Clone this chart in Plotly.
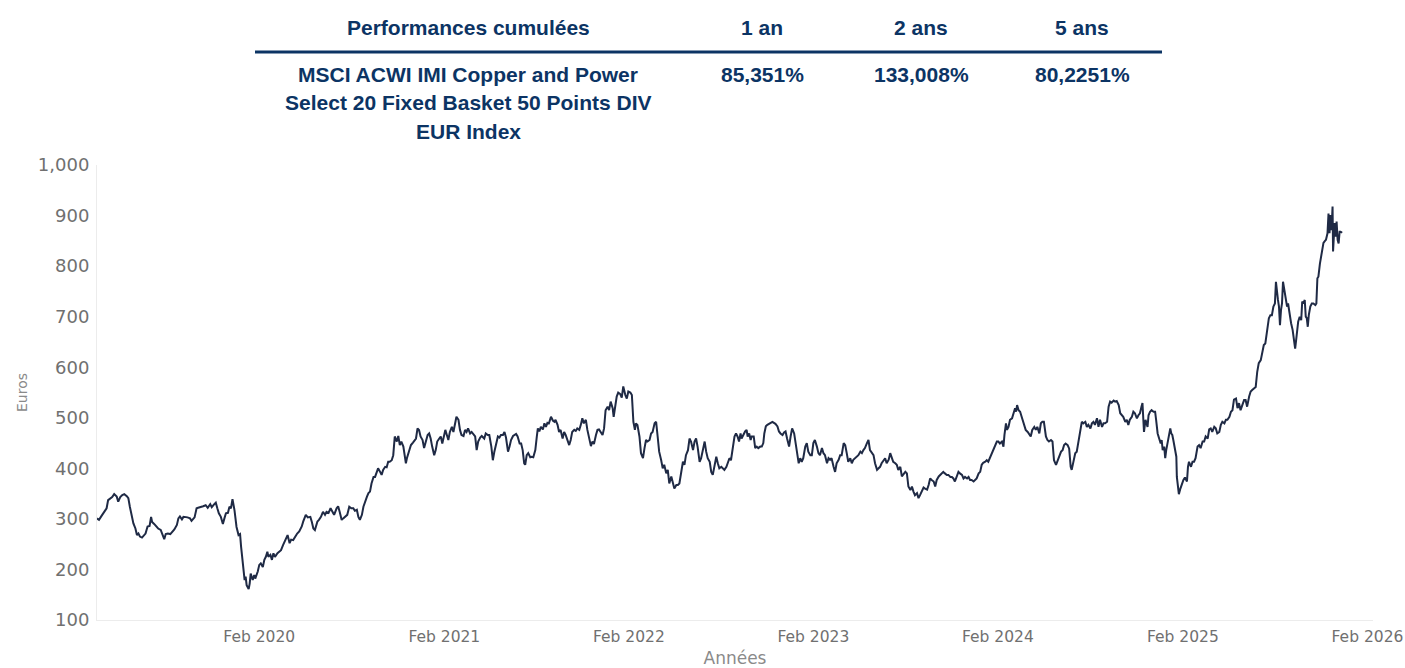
import plotly.graph_objects as go

# ---------------- Table (performance summary) ----------------
table_header = ["Performances cumulées", "1 an", "2 ans", "5 ans"]
index_name_lines = ["MSCI ACWI IMI Copper and Power",
                    "Select 20 Fixed Basket 50 Points DIV",
                    "EUR Index"]
perf_values = ["85,351%", "133,008%", "80,2251%"]

# ---------------- Series (Euros) ----------------
d2019 = ["2019-03-17", "2019-03-21", "2019-03-26",
         "2019-04-01", "2019-04-05", "2019-04-08", "2019-04-12", "2019-04-16", "2019-04-20", "2019-04-25", "2019-04-28",
         "2019-05-02", "2019-05-06", "2019-05-10", "2019-05-15", "2019-05-18", "2019-05-21", "2019-05-25", "2019-05-28",
         "2019-06-01", "2019-06-04", "2019-06-07", "2019-06-10", "2019-06-14", "2019-06-18", "2019-06-21", "2019-06-25", "2019-06-29",
         "2019-07-02", "2019-07-04", "2019-07-08", "2019-07-12", "2019-07-16", "2019-07-21", "2019-07-25", "2019-07-28", "2019-07-31",
         "2019-08-04", "2019-08-09", "2019-08-13", "2019-08-17", "2019-08-22", "2019-08-25", "2019-08-28",
         "2019-09-01", "2019-09-04", "2019-09-07", "2019-09-12", "2019-09-17", "2019-09-20", "2019-09-26", "2019-09-30",
         "2019-10-03", "2019-10-09", "2019-10-13", "2019-10-18", "2019-10-22", "2019-10-27", "2019-10-30",
         "2019-11-04", "2019-11-07", "2019-11-10", "2019-11-13", "2019-11-17", "2019-11-21", "2019-11-24", "2019-11-27",
         "2019-12-01", "2019-12-04", "2019-12-07", "2019-12-10", "2019-12-14", "2019-12-18", "2019-12-22", "2019-12-25", "2019-12-27", "2019-12-30"]
v2019 = [301, 298, 306,
         314, 321, 337, 340, 343, 349, 344, 334,
         343, 347, 349, 345, 341, 324, 304, 291,
         281, 268, 271, 265, 263, 268, 271, 285, 286,
         304, 294, 290, 285, 281, 278, 265, 260, 270,
         271, 270, 275, 279, 288, 301, 305,
         299, 304, 304, 303, 301, 296, 303, 321,
         322, 323, 325, 327, 322, 329, 323,
         329, 332, 321, 311, 304, 290, 301, 311,
         312, 324, 321, 339, 317, 284, 268, 270, 245, 219]

d2020 = ["2020-01-01", "2020-01-03", "2020-01-05", "2020-01-07", "2020-01-11", "2020-01-13", "2020-01-15", "2020-01-19", "2020-01-22", "2020-01-24", "2020-01-29",
         "2020-02-01", "2020-02-04", "2020-02-08", "2020-02-11", "2020-02-14", "2020-02-17", "2020-02-19", "2020-02-23", "2020-02-26", "2020-02-29",
         "2020-03-03", "2020-03-08", "2020-03-11", "2020-03-15", "2020-03-19", "2020-03-24", "2020-03-28",
         "2020-04-01", "2020-04-04", "2020-04-08", "2020-04-12", "2020-04-16", "2020-04-20", "2020-04-25", "2020-04-28",
         "2020-05-03", "2020-05-07", "2020-05-12", "2020-05-15", "2020-05-18", "2020-05-21", "2020-05-26", "2020-05-29",
         "2020-06-02", "2020-06-06", "2020-06-10", "2020-06-13", "2020-06-17", "2020-06-21", "2020-06-25", "2020-06-28",
         "2020-07-03", "2020-07-06", "2020-07-09", "2020-07-13", "2020-07-16", "2020-07-19", "2020-07-24", "2020-07-28",
         "2020-08-01", "2020-08-05", "2020-08-08", "2020-08-12", "2020-08-15", "2020-08-18", "2020-08-22", "2020-08-25", "2020-08-28",
         "2020-09-01", "2020-09-04", "2020-09-07", "2020-09-10", "2020-09-14", "2020-09-17", "2020-09-20", "2020-09-23", "2020-09-27", "2020-09-30",
         "2020-10-03", "2020-10-07", "2020-10-10", "2020-10-13", "2020-10-16", "2020-10-20", "2020-10-23", "2020-10-26", "2020-10-30",
         "2020-11-02", "2020-11-05", "2020-11-08", "2020-11-12", "2020-11-15", "2020-11-17", "2020-11-19", "2020-11-23", "2020-11-27",
         "2020-12-01", "2020-12-04", "2020-12-07", "2020-12-10", "2020-12-13", "2020-12-16", "2020-12-20", "2020-12-23", "2020-12-26", "2020-12-30"]
v2020 = [205, 179, 186, 169, 161, 172, 192, 179, 189, 182, 196,
         209, 212, 205, 219, 225, 235, 225, 229, 219, 232,
         225, 232, 235, 238, 248, 258, 268,
         252, 259, 258, 265, 271, 275, 285, 295,
         308, 303, 304, 294, 281, 278, 295, 298,
         304, 314, 308, 314, 312, 321, 314, 308,
         321, 325, 314, 298, 301, 304, 308, 324,
         321, 321, 316, 318, 304, 298, 308, 324, 334,
         344, 351, 354, 370, 383, 383, 393, 400, 393, 387,
         397, 403, 402, 413, 413, 416, 426, 463, 453,
         464, 446, 453, 443, 416, 410, 420, 436, 446,
         451, 455, 459, 479, 476, 463, 456, 440, 453, 466]

d2021 = ["2021-01-02", "2021-01-05", "2021-01-08", "2021-01-12", "2021-01-15", "2021-01-18", "2021-01-22", "2021-01-25", "2021-01-28",
         "2021-02-01", "2021-02-03", "2021-02-06", "2021-02-09", "2021-02-12", "2021-02-16", "2021-02-19", "2021-02-22", "2021-02-25",
         "2021-03-01", "2021-03-04", "2021-03-07", "2021-03-11", "2021-03-14", "2021-03-17", "2021-03-20", "2021-03-24", "2021-03-27", "2021-03-30",
         "2021-04-03", "2021-04-06", "2021-04-09", "2021-04-13", "2021-04-16", "2021-04-21", "2021-04-24", "2021-04-28",
         "2021-05-01", "2021-05-05", "2021-05-08", "2021-05-11", "2021-05-15", "2021-05-18", "2021-05-21", "2021-05-24", "2021-05-28", "2021-05-31",
         "2021-06-03", "2021-06-07", "2021-06-10", "2021-06-13", "2021-06-17", "2021-06-20", "2021-06-23", "2021-06-26", "2021-06-30",
         "2021-07-03", "2021-07-06", "2021-07-09", "2021-07-11", "2021-07-14", "2021-07-17", "2021-07-21", "2021-07-24", "2021-07-27", "2021-07-31",
         "2021-08-03", "2021-08-05", "2021-08-08", "2021-08-11", "2021-08-15", "2021-08-18", "2021-08-21", "2021-08-24", "2021-08-27", "2021-08-31",
         "2021-09-04", "2021-09-07", "2021-09-09", "2021-09-13", "2021-09-16", "2021-09-19", "2021-09-23", "2021-09-26", "2021-09-29",
         "2021-10-03", "2021-10-06", "2021-10-09", "2021-10-12", "2021-10-16", "2021-10-19", "2021-10-22", "2021-10-26", "2021-10-29",
         "2021-11-01", "2021-11-04", "2021-11-08", "2021-11-11", "2021-11-14", "2021-11-18", "2021-11-21", "2021-11-24", "2021-11-28",
         "2021-12-01", "2021-12-04", "2021-12-07", "2021-12-11", "2021-12-14", "2021-12-17", "2021-12-21", "2021-12-24", "2021-12-27", "2021-12-31"]
v2021 = [469, 459, 443, 426, 436, 453, 459, 463, 449,
         469, 476, 466, 456, 472, 482, 472, 492, 502,
         496, 476, 466, 464, 476, 472, 479, 469, 472, 469,
         463, 436, 453, 461, 464, 459, 469, 466,
         466, 443, 416, 433, 453, 463, 461, 466, 466, 472,
         461, 433, 443, 456, 464, 466, 468, 463, 449,
         449, 436, 410, 407, 426, 430, 422, 423, 422, 436,
         463, 479, 473, 482, 477, 489, 482, 490, 489, 502,
         494, 492, 496, 486, 472, 476, 459, 472, 466,
         456, 446, 456, 472, 476, 474, 479, 476, 486,
         499, 489, 496, 476, 459, 444, 453, 448, 466,
         476, 477, 472, 466, 479, 515, 522, 515, 532, 519]

d2022 = ["2022-01-02", "2022-01-05", "2022-01-08", "2022-01-11", "2022-01-15", "2022-01-18", "2022-01-21", "2022-01-25", "2022-01-28", "2022-01-31",
         "2022-02-04", "2022-02-07", "2022-02-10", "2022-02-13", "2022-02-15", "2022-02-18", "2022-02-22", "2022-02-25",
         "2022-03-01", "2022-03-04", "2022-03-07", "2022-03-10", "2022-03-14", "2022-03-17", "2022-03-20", "2022-03-24", "2022-03-27", "2022-03-30",
         "2022-04-02", "2022-04-06", "2022-04-09", "2022-04-12", "2022-04-16", "2022-04-19", "2022-04-22", "2022-04-26", "2022-04-29",
         "2022-05-02", "2022-05-06", "2022-05-09", "2022-05-12", "2022-05-15", "2022-05-19", "2022-05-22", "2022-05-25", "2022-05-29",
         "2022-06-01", "2022-06-04", "2022-06-08", "2022-06-11", "2022-06-14", "2022-06-17", "2022-06-21", "2022-06-24", "2022-06-27",
         "2022-07-01", "2022-07-04", "2022-07-07", "2022-07-11", "2022-07-14", "2022-07-17", "2022-07-20", "2022-07-24", "2022-07-27", "2022-07-30",
         "2022-08-03", "2022-08-06", "2022-08-09", "2022-08-13", "2022-08-16", "2022-08-19", "2022-08-22", "2022-08-26", "2022-08-29",
         "2022-09-01", "2022-09-04", "2022-09-07", "2022-09-10", "2022-09-12", "2022-09-16", "2022-09-19", "2022-09-22", "2022-09-24", "2022-09-27", "2022-09-30",
         "2022-10-02", "2022-10-06", "2022-10-09", "2022-10-12", "2022-10-15", "2022-10-19", "2022-10-22", "2022-10-25", "2022-10-27", "2022-10-30",
         "2022-11-02", "2022-11-05", "2022-11-09", "2022-11-12", "2022-11-15", "2022-11-18", "2022-11-22", "2022-11-25", "2022-11-28",
         "2022-12-02", "2022-12-05", "2022-12-08", "2022-12-11", "2022-12-15", "2022-12-18", "2022-12-21", "2022-12-25", "2022-12-28"]
v2022 = [502, 519, 542, 550, 547, 540, 562, 545, 538, 552,
         550, 545, 492, 476, 489, 486, 463, 430,
         420, 440, 456, 453, 456, 469, 472, 489, 492, 463,
         433, 416, 400, 407, 390, 397, 370, 384, 374,
         360, 367, 367, 370, 390, 413, 407, 426, 436,
         459, 453, 436, 453, 459, 443, 413, 420, 436,
         453, 433, 420, 413, 393, 387, 403, 423, 410, 400,
         403, 400, 397, 403, 413, 420, 416, 443, 463,
         469, 463, 453, 469, 459, 469, 473, 476, 463, 469, 456,
         463, 463, 440, 443, 440, 443, 443, 450, 469, 483,
         486, 488, 490, 492, 490, 488, 483, 473, 469,
         466, 471, 473, 459, 443, 463, 479, 469, 450]

d2023 = ["2023-01-01", "2023-01-03", "2023-01-06", "2023-01-09", "2023-01-12", "2023-01-16", "2023-01-19", "2023-01-22", "2023-01-26", "2023-01-29",
         "2023-02-01", "2023-02-04", "2023-02-08", "2023-02-11", "2023-02-14", "2023-02-18", "2023-02-21", "2023-02-24", "2023-02-28",
         "2023-03-03", "2023-03-06", "2023-03-09", "2023-03-13", "2023-03-16", "2023-03-19", "2023-03-23", "2023-03-26", "2023-03-29",
         "2023-04-02", "2023-04-05", "2023-04-08", "2023-04-11", "2023-04-15", "2023-04-18", "2023-04-21", "2023-04-25", "2023-04-28",
         "2023-05-01", "2023-05-05", "2023-05-08", "2023-05-11", "2023-05-14", "2023-05-18", "2023-05-21", "2023-05-24", "2023-05-28", "2023-05-31",
         "2023-06-03", "2023-06-07", "2023-06-10", "2023-06-13", "2023-06-16", "2023-06-20", "2023-06-23", "2023-06-26", "2023-06-30",
         "2023-07-03", "2023-07-06", "2023-07-09", "2023-07-13", "2023-07-16", "2023-07-19", "2023-07-23", "2023-07-26", "2023-07-29",
         "2023-08-02", "2023-08-05", "2023-08-08", "2023-08-12", "2023-08-15", "2023-08-18", "2023-08-21", "2023-08-25", "2023-08-28", "2023-08-31",
         "2023-09-04", "2023-09-07", "2023-09-10", "2023-09-14", "2023-09-17", "2023-09-20", "2023-09-23", "2023-09-27", "2023-09-30",
         "2023-10-03", "2023-10-07", "2023-10-10", "2023-10-13", "2023-10-16", "2023-10-18", "2023-10-20", "2023-10-23", "2023-10-26", "2023-10-30",
         "2023-11-02", "2023-11-05", "2023-11-08", "2023-11-12", "2023-11-15", "2023-11-18", "2023-11-22", "2023-11-25", "2023-11-28",
         "2023-12-02", "2023-12-05", "2023-12-08", "2023-12-11", "2023-12-15", "2023-12-18", "2023-12-21", "2023-12-25", "2023-12-28", "2023-12-31"]
v2023 = [430, 410, 420, 413, 420, 443, 450, 433, 426, 426,
         450, 456, 443, 430, 426, 440, 430, 426, 410,
         420, 417, 420, 403, 393, 410, 417, 426, 426,
         450, 446, 430, 413, 420, 410, 417, 420, 423,
         426, 433, 430, 436, 440, 450, 456, 436, 430, 426,
         410, 397, 400, 403, 410, 417, 420, 410, 417,
         430, 420, 413, 410, 407, 397, 403, 384, 387,
         393, 390, 364, 357, 364, 354, 347, 351, 341, 347,
         357, 362, 360, 358, 367, 380, 377, 374, 364,
         377, 384, 387, 390, 393, 391, 389, 387, 387, 383,
         383, 380, 374, 387, 393, 390, 387, 380, 383,
         380, 383, 377, 377, 374, 377, 380, 390, 393, 407]

d2024 = ["2024-01-03", "2024-01-07", "2024-01-10", "2024-01-13", "2024-01-17", "2024-01-20", "2024-01-23", "2024-01-27", "2024-01-30",
         "2024-02-02", "2024-02-05", "2024-02-09", "2024-02-12", "2024-02-14", "2024-02-17", "2024-02-19", "2024-02-22", "2024-02-25", "2024-02-29",
         "2024-03-03", "2024-03-06", "2024-03-08", "2024-03-10", "2024-03-13", "2024-03-16", "2024-03-19", "2024-03-23", "2024-03-25", "2024-03-27", "2024-03-31",
         "2024-04-03", "2024-04-06", "2024-04-09", "2024-04-13", "2024-04-16", "2024-04-19", "2024-04-23", "2024-04-26", "2024-04-29",
         "2024-05-02", "2024-05-06", "2024-05-09", "2024-05-12", "2024-05-16", "2024-05-19", "2024-05-22", "2024-05-26", "2024-05-29",
         "2024-06-01", "2024-06-05", "2024-06-08", "2024-06-11", "2024-06-14", "2024-06-18", "2024-06-21", "2024-06-24", "2024-06-26", "2024-06-30",
         "2024-07-03", "2024-07-06", "2024-07-09", "2024-07-13", "2024-07-16", "2024-07-19", "2024-07-23", "2024-07-26", "2024-07-29",
         "2024-08-02", "2024-08-05", "2024-08-08", "2024-08-11", "2024-08-15", "2024-08-18", "2024-08-21", "2024-08-25", "2024-08-28", "2024-08-31",
         "2024-09-04", "2024-09-07", "2024-09-10", "2024-09-13", "2024-09-17", "2024-09-20", "2024-09-23", "2024-09-27", "2024-09-30",
         "2024-10-03", "2024-10-06", "2024-10-10", "2024-10-13", "2024-10-16", "2024-10-19", "2024-10-23", "2024-10-26", "2024-10-29",
         "2024-11-02", "2024-11-05", "2024-11-08", "2024-11-11", "2024-11-13", "2024-11-16", "2024-11-19", "2024-11-23", "2024-11-25", "2024-11-28",
         "2024-12-01", "2024-12-05", "2024-12-08", "2024-12-10", "2024-12-13", "2024-12-16", "2024-12-19", "2024-12-21", "2024-12-23", "2024-12-26", "2024-12-28", "2024-12-30"]
v2024 = [411, 413, 416, 413, 423, 430, 439, 449, 453,
         453, 449, 453, 443, 466, 489, 476, 482, 496, 499,
         509, 519, 512, 525, 515, 512, 502, 489, 479, 476, 472,
         466, 463, 476, 482, 476, 482, 469, 489, 492,
         492, 463, 456, 453, 456, 453, 416, 407, 416,
         423, 433, 436, 446, 449, 446, 439, 403, 397, 416,
         430, 433, 449, 469, 492, 489, 492, 482, 486,
         479, 489, 492, 486, 499, 482, 496, 482, 489, 489,
         492, 522, 532, 530, 534, 532, 533, 525, 509,
         505, 502, 492, 496, 486, 496, 502, 512, 509,
         499, 505, 509, 522, 529, 472, 496, 482, 505, 512,
         515, 512, 512, 496, 469, 459, 449, 456, 436, 443, 420, 436]

d2025 = ["2025-01-01", "2025-01-04", "2025-01-07", "2025-01-09", "2025-01-11", "2025-01-13", "2025-01-16", "2025-01-19", "2025-01-20", "2025-01-22", "2025-01-24", "2025-01-27", "2025-01-30",
         "2025-02-02", "2025-02-05", "2025-02-09", "2025-02-11", "2025-02-13", "2025-02-17", "2025-02-20", "2025-02-23", "2025-02-26",
         "2025-03-02", "2025-03-05", "2025-03-08", "2025-03-12", "2025-03-15", "2025-03-18", "2025-03-22", "2025-03-25", "2025-03-28", "2025-03-31",
         "2025-04-04", "2025-04-07", "2025-04-10", "2025-04-14", "2025-04-17", "2025-04-20", "2025-04-24", "2025-04-27", "2025-04-30",
         "2025-05-04", "2025-05-07", "2025-05-10", "2025-05-13", "2025-05-17", "2025-05-20", "2025-05-23", "2025-05-26", "2025-05-30",
         "2025-06-02", "2025-06-05", "2025-06-08", "2025-06-12", "2025-06-15", "2025-06-18", "2025-06-21", "2025-06-25", "2025-06-28",
         "2025-07-01", "2025-07-05", "2025-07-08", "2025-07-11", "2025-07-14", "2025-07-18", "2025-07-21", "2025-07-24", "2025-07-27", "2025-07-30",
         "2025-08-02", "2025-08-04", "2025-08-06", "2025-08-08", "2025-08-10", "2025-08-12", "2025-08-14", "2025-08-16", "2025-08-18", "2025-08-20", "2025-08-22", "2025-08-24", "2025-08-26", "2025-08-28", "2025-08-30",
         "2025-09-03", "2025-09-06", "2025-09-09", "2025-09-11", "2025-09-13", "2025-09-15", "2025-09-17", "2025-09-20", "2025-09-23", "2025-09-25", "2025-09-27", "2025-09-30",
         "2025-10-02", "2025-10-04", "2025-10-06", "2025-10-08", "2025-10-11", "2025-10-14", "2025-10-17", "2025-10-21", "2025-10-23", "2025-10-25", "2025-10-27", "2025-10-30",
         "2025-11-01", "2025-11-04", "2025-11-06", "2025-11-09", "2025-11-11", "2025-11-14", "2025-11-16", "2025-11-18", "2025-11-20", "2025-11-22", "2025-11-24", "2025-11-25", "2025-11-28", "2025-11-30",
         "2025-12-02", "2025-12-04", "2025-12-06", "2025-12-08", "2025-12-10", "2025-12-13"]
v2025 = [449, 463, 479, 469, 466, 456, 436, 423, 383, 357, 349, 360, 370,
         377, 382, 374, 403, 413, 403, 413, 413, 420,
         443, 446, 440, 453, 453, 463, 459, 477, 479, 472,
         482, 479, 469, 472, 486, 492, 489, 496, 496,
         502, 512, 515, 536, 538, 519, 529, 515, 529,
         535, 535, 522, 542, 552, 555, 558, 561, 591,
         608, 614, 634, 644, 647, 674, 697, 703, 703, 720,
         726, 769, 743, 733, 720, 683, 713, 726, 769, 756, 740, 733, 720, 726, 710,
         687, 674, 657, 637, 654, 674, 690, 700, 693, 730, 726, 733,
         700, 697, 680, 703, 720, 726, 726, 723, 726, 776, 779, 805,
         819, 835, 846, 850, 852, 865, 904, 865, 901, 871, 918, 829, 885, 858,
         888, 852, 845, 868, 868, 866]

dates = d2019 + d2020 + d2021 + d2022 + d2023 + d2024 + d2025
values = v2019 + v2020 + v2021 + v2022 + v2023 + v2024 + v2025
assert len(dates) == len(values), (len(dates), len(values))

# ---------------- Styling ----------------
NAVY = "#0c3464"
LINE = "#1f2a45"
TICK = "#707070"
TITLE = "#8a8a8a"
AXIS = "#ececec"

# Page body margin is removed by the post_script, so the figure fills the window.
W, H = 1405, 668
ML, MR, MT, MB = 97, 32, 165, 48
PW, PH = W - ML - MR, H - MT - MB


def px(xs):  # screen x -> paper x
    return (xs - ML) / PW


def py(ys):  # screen y -> paper y
    return (H - MB - ys) / PH


fig = go.Figure()
fig.add_trace(go.Scatter(x=dates, y=values, mode="lines",
                         line=dict(color=LINE, width=2),
                         showlegend=False,
                         hovertemplate="%{x|%d %b %Y}<br>%{y:.2f} €<extra></extra>"))

ann = []
hfont = dict(family="Liberation Sans, Arial, sans-serif", size=21, color=NAVY)
col_x = [468, 762, 921, 1082]
for cx, txt in zip(col_x, table_header):
    ann.append(dict(text=f"<b>{txt}</b>", x=px(cx), y=py(28), xref="paper", yref="paper",
                    xanchor="center", yanchor="middle", showarrow=False, font=hfont))
for i, line in enumerate(index_name_lines):
    ann.append(dict(text=f"<b>{line}</b>", x=px(col_x[0]), y=py(74 + 28.5 * i), xref="paper", yref="paper",
                    xanchor="center", yanchor="middle", showarrow=False, font=hfont))
for cx, txt in zip(col_x[1:], perf_values):
    ann.append(dict(text=f"<b>{txt}</b>", x=px(cx), y=py(74), xref="paper", yref="paper",
                    xanchor="center", yanchor="middle", showarrow=False, font=hfont))

shapes = [dict(type="line", xref="paper", yref="paper", x0=px(255), x1=px(1162),
               y0=py(52), y1=py(52), line=dict(color=NAVY, width=3))]

fig.update_layout(
    width=W, height=H,
    margin=dict(l=ML, r=MR, t=MT, b=MB, autoexpand=False),
    paper_bgcolor="white", plot_bgcolor="white",
    annotations=ann, shapes=shapes,
    font=dict(family="DejaVu Sans, sans-serif"),
    xaxis=dict(type="date", range=["2019-03-17", "2026-02-12"],
               tick0="2020-02-01", dtick="M12", tickformat="%b %Y",
               showgrid=False, zeroline=False, showline=True, linecolor=AXIS, linewidth=1,
               ticks="", ticklabelstandoff=2, automargin=False,
               tickfont=dict(family="DejaVu Sans, sans-serif", size=15.5, color=TICK),
               title=dict(text="Années", standoff=24,
                          font=dict(family="DejaVu Sans, sans-serif", size=17, color=TITLE))),
    yaxis=dict(range=[100, 1000], dtick=100, tickformat=",",
               showgrid=False, zeroline=False, showline=True, linecolor=AXIS, linewidth=1,
               ticks="", ticklabelstandoff=3, automargin=False,
               tickfont=dict(family="DejaVu Sans, sans-serif", size=18, color=TICK),
               title=dict(text="Euros", standoff=6,
                          font=dict(family="DejaVu Sans, sans-serif", size=14, color=TITLE))),
)

fig.write_html("out.html",
               config={"displayModeBar": False},
               post_script="document.body.style.margin='0px';document.body.style.overflow='hidden';")
